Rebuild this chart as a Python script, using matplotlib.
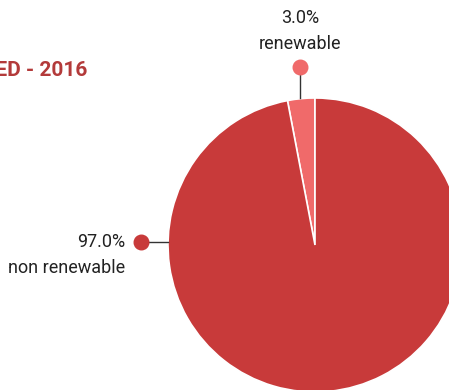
import matplotlib.pyplot as plt

labels = ["renewable", "non renewable"]
shares = [3.0, 97.0]
colors = ["#F06A6A", "#C83A3A"]
title = "PRIMARY ENERGY CONSUMED - 2016"

fig = plt.figure(figsize=(4.49, 3.90), dpi=100)
ax = fig.add_axes([0, 0, 1, 1])

cx, cy, r = 315, 145, 147
ax.pie(shares, colors=colors, startangle=90, counterclock=True,
       center=(cx, cy), radius=r, frame=True,
       wedgeprops=dict(edgecolor="white", linewidth=1.2))
ax.set_xlim(0, 449)
ax.set_ylim(0, 390)
ax.set_aspect("equal")
ax.axis("off")

lab_font = ["Roboto", "DejaVu Sans"]
lab_kw = dict(fontsize=13, family=lab_font, color="#222222")

# renewable callout
ax.plot([300, 300], [323, 292], color="#333333", lw=1)
ax.scatter([300], [323], s=110, color=colors[0], zorder=5)
ax.text(300, 372, f"{shares[0]:.1f}%", ha="center", va="center", **lab_kw)
ax.text(300, 346, labels[0], ha="center", va="center", **lab_kw)

# non renewable callout
ax.plot([141, 168], [148, 148], color="#333333", lw=1)
ax.scatter([141], [148], s=110, color=colors[1], zorder=5)
ax.text(125, 148, f"{shares[1]:.1f}%", ha="right", va="center", **lab_kw)
ax.text(125, 122, labels[1], ha="right", va="center", **lab_kw)

ax.text(87, 320, title, ha="right", va="center", fontsize=15,
        fontweight="bold", family=lab_font, color="#B33A3A")

fig.savefig("out.png", dpi=100)
